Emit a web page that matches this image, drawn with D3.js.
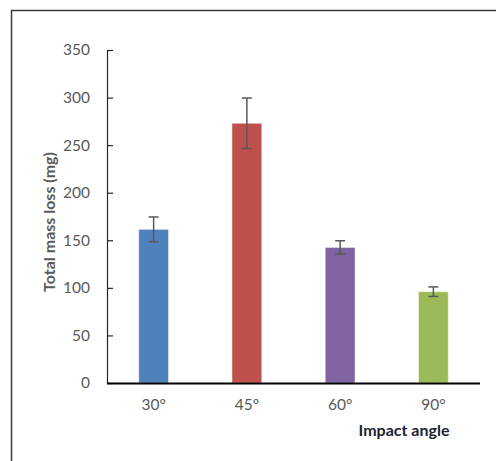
<!DOCTYPE html>
<html>
<head>
<meta charset="utf-8">
<script src="https://cdn.jsdelivr.net/npm/d3@7"></script>
<style>
  body { margin: 0; background: #fff; }
  svg { display: block; font-family: Lato, "Open Sans", sans-serif; }
  .tick-label { fill: #595959; font-size: 15.5px; }
  .axis-title { font-weight: bold; font-size: 16px; }
</style>
</head>
<body>
<svg id="chart" width="496" height="461"></svg>
<script>
"use strict";

const angles = ["30°", "45°", "60°", "90°"];
const massLoss = [161.5, 273, 142.5, 96];
const errors = [13, 26.5, 7, 5];
const barColors = ["#4F81BD", "#C0504D", "#8064A2", "#9BBB59"];
const yTicks = [0, 50, 100, 150, 200, 250, 300, 350];

const margins = {top: 50, right: 16, bottom: 78, left: 107};
const svgEl = document.querySelector("#chart");
const width = 496 - margins.left - margins.right;
const height = 461 - margins.top - margins.bottom;

const root = d3.select(svgEl);

// outer frame of the chart area
root.append("rect")
    .attr("x", 11.5)
    .attr("y", 10.5)
    .attr("width", 496)
    .attr("height", 470)
    .attr("fill", "none")
    .attr("stroke", "#3a3a3a")
    .attr("stroke-width", 1.5);

const svg = root.append("g")
    .attr("transform", `translate(${margins.left}, ${margins.top})`);

const xScale = d3.scaleBand()
    .domain(angles)
    .range([0, width])
    .paddingInner(0.68)
    .paddingOuter(0.34);

const yScale = d3.scaleLinear()
    .domain([0, 350])
    .range([height, 0]);

// y axis, ticks point inward like the original
svg.append("g")
    .call(d3.axisRight(yScale)
            .tickValues(yTicks)
            .tickSize(6)
            .tickFormat("")
            .tickSizeOuter(6))
    .call(g => g.select(".domain").attr("stroke", "#262626").attr("stroke-width", 1.2))
    .call(g => g.selectAll(".tick line").attr("stroke", "#262626").attr("stroke-width", 1.2));

svg.append("g")
    .selectAll("text")
    .data(yTicks)
    .join("text")
    .attr("class", "tick-label")
    .attr("x", -17)
    .attr("y", d => yScale(d))
    .attr("dy", "0.35em")
    .attr("text-anchor", "end")
    .text(d => d);

// bars
svg.append("g")
    .selectAll("rect")
    .data(angles)
    .join("rect")
    .attr("x", d => xScale(d))
    .attr("y", (d, i) => yScale(massLoss[i]))
    .attr("width", xScale.bandwidth())
    .attr("height", (d, i) => height - yScale(massLoss[i]))
    .attr("fill", (d, i) => barColors[i])
    .attr("stroke", "#fff")
    .attr("stroke-opacity", 0.5)
    .attr("stroke-width", 1);

// error bars
const errG = svg.append("g")
    .attr("stroke", "#595959")
    .attr("stroke-width", 1.5);

angles.forEach((a, i) => {
  const cx = xScale(a) + xScale.bandwidth() / 2;
  const top = yScale(massLoss[i] + errors[i]);
  const bottom = yScale(massLoss[i] - errors[i]);
  errG.append("line").attr("x1", cx).attr("x2", cx).attr("y1", top).attr("y2", bottom);
  errG.append("line").attr("x1", cx - 5).attr("x2", cx + 5).attr("y1", top).attr("y2", top);
  errG.append("line").attr("x1", cx - 5).attr("x2", cx + 5).attr("y1", bottom).attr("y2", bottom);
});

// x axis baseline
svg.append("line")
    .attr("x1", 0)
    .attr("x2", width)
    .attr("y1", height + 0.5)
    .attr("y2", height + 0.5)
    .attr("stroke", "#000")
    .attr("stroke-width", 2.2);

svg.append("g")
    .selectAll("text")
    .data(angles)
    .join("text")
    .attr("class", "tick-label")
    .attr("x", d => xScale(d) + xScale.bandwidth() / 2)
    .attr("y", height + 22)
    .attr("dy", "0.35em")
    .attr("text-anchor", "middle")
    .text(d => d);

svg.append("text")
    .attr("class", "axis-title")
    .attr("fill", "#1c2333")
    .attr("text-anchor", "middle")
    .attr("x", 297)
    .attr("y", height + 47)
    .attr("dy", "0.35em")
    .text("Impact angle");

svg.append("text")
    .attr("class", "axis-title")
    .attr("fill", "#595959")
    .attr("text-anchor", "middle")
    .attr("transform", `translate(${-58}, ${172}) rotate(-90)`)
    .attr("dy", "0.35em")
    .text("Total mass loss (mg)");
</script>
</body>
</html>
